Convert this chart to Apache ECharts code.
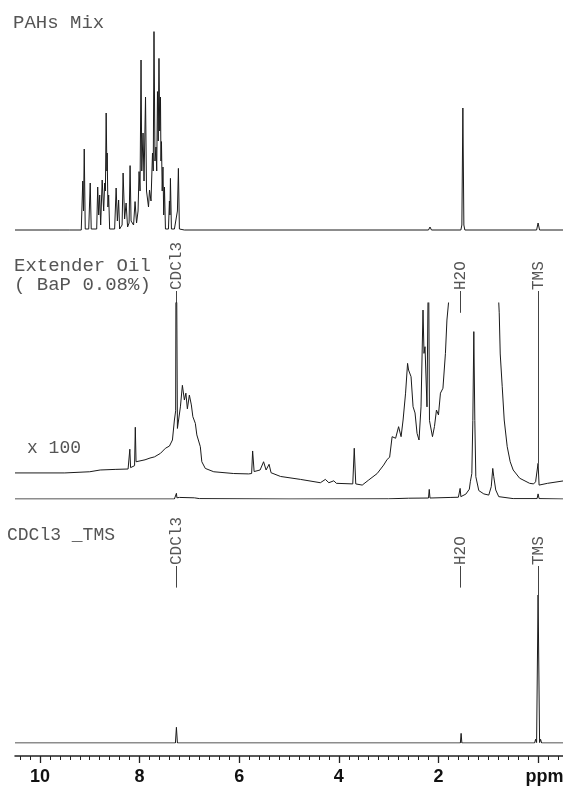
<!DOCTYPE html>
<html>
<head>
<meta charset="utf-8">
<title>1H NMR - PAHs Mix / Extender Oil / CDCl3 _TMS</title>
<script src="https://cdn.jsdelivr.net/npm/echarts@6.0.0/dist/echarts.min.js"></script>
<style>
	html, body { margin: 0; padding: 0; background: #fff; }
	#nmr-chart { width: 563px; height: 786px; }
</style>
</head>
<body>
<div id="nmr-chart"></div>
<script>
// ppm axis (drawn right to left)
var ppmMin = -0.5;
var ppmMax = 10.5;
var tickLabels = [0, 2, 4, 6, 8, 10];

// solvent / reference annotations
var solventNames = ["CDCl3", "H2O", "TMS"];
var solventPpm = [7.26, 1.56, 0.0];
var oilLeaderTip = [100, 95, 18.2];
var blankLeaderTip = [105, 105, 100];

// PAHs Mix  [ppm, intensity]
var pahMix = [
	[10.5,0.5],[9.4,0.5],[9.17,0.5],[9.14,25],[9.125,10],[9.11,41],[9.09,1],[9.02,1],[8.99,24],[8.97,1],
	[8.86,1],[8.84,22],[8.82,8],[8.80,18],[8.78,3],[8.75,25.5],[8.72,10],[8.70,24],[8.685,20],[8.67,59],
	[8.655,30],[8.65,39],[8.635,12],[8.62,18],[8.60,1],[8.50,1],[8.47,21.5],[8.445,5],[8.42,15.5],[8.40,1],
	[8.35,3],[8.33,29],[8.30,6],[8.27,14],[8.24,2],[8.21,4],[8.19,32.7],[8.17,5],[8.12,3],[8.09,14.7],
	[8.06,4],[8.03,10],[8.01,29.7],[7.99,20],[7.97,85.5],[7.955,30],[7.93,49],[7.91,25],[7.88,67],[7.86,20],
	[7.84,19],[7.82,12],[7.80,20.5],[7.77,15],[7.74,39],[7.725,30],[7.71,99.7],[7.69,35],[7.67,42],[7.655,30],
	[7.64,69.7],[7.625,45],[7.61,86.3],[7.595,50],[7.58,67],[7.57,35],[7.56,44.7],[7.545,20],[7.53,32],[7.515,8],
	[7.50,22],[7.48,1],[7.42,1],[7.40,15],[7.39,8],[7.38,26.3],[7.36,1],[7.30,1],[7.24,10],[7.22,31.3],
	[7.20,1],[7.1,0.5],[5.0,0.5],[2.2,0.5],[2.17,2],[2.14,0.5],[1.55,0.5],[1.53,3],[1.51,61.5],[1.49,3],
	[1.47,0.5],[0.03,0.5],[0.0,4],[-0.03,0.5],[-0.5,0.5]
];

// Extender Oil, x 100 trace  [ppm, intensity]
var oilX100 = [
	[10.5,13.3],[9.5,13.3],[9.0,13.9],[8.79,14.8],[8.49,15.1],[8.23,15.3],[8.21,15.3],[8.195,25.4],[8.18,16],[8.1,17],
	[8.085,36.6],[8.07,19],[7.89,20],[7.79,20.9],[7.7,21.5],[7.58,23.3],[7.48,25.9],[7.4,27],[7.34,30.1],[7.3,40.3],
	[7.275,45],[7.265,160],[7.255,160],[7.24,36],[7.23,35],[7.18,47],[7.14,58],[7.1,50.5],[7.07,54],[7.04,46],
	[7.0,53],[6.96,48],[6.93,42],[6.88,38.6],[6.85,32.7],[6.82,31.8],[6.78,26.7],[6.75,19],[6.68,15.6],[6.51,13.9],
	[6.11,13],[5.81,12.8],[5.75,13],[5.73,24.5],[5.70,14],[5.58,14.8],[5.51,19],[5.46,14.8],[5.40,17.7],[5.36,13.4],
	[5.17,11.5],[4.77,10],[4.37,8.3],[4.27,10],[4.20,8.3],[4.1,9.3],[4.05,8],[3.72,7.7],[3.69,25.9],[3.66,7.7],
	[3.53,7.1],[3.5,8],[3.40,9.7],[3.23,13],[3.10,17.3],[3.03,20.2],[2.98,21.3],[2.93,31.8],[2.89,32.7],[2.86,31],
	[2.80,36.9],[2.75,31.8],[2.71,40.3],[2.66,54],[2.62,69.2],[2.60,65.8],[2.55,62.4],[2.51,47.1],[2.47,43.9],[2.43,33.5],
	[2.39,30.1],[2.35,47],[2.31,96.4],[2.29,74.3],[2.27,77.7],[2.23,47],[2.20,130],[2.18,40],[2.12,31.8],[2.08,37],
	[2.04,45.4],[2.00,42.9],[1.96,54],[1.91,56.5],[1.86,74.3],[1.83,91.3],[1.78,105],[1.6,180],[1.3,400],[1.0,250],
	[0.8,106],[0.78,95],[0.76,74],[0.72,57.3],[0.68,40.3],[0.62,26.7],[0.56,19],[0.5,14.8],[0.37,10.6],[0.17,8],
	[0.09,7.7],[0.05,8.8],[0.02,8.5],[0.0,18.2],[-0.02,7.1],[-0.19,8],[-0.5,9.2]
];

// Extender Oil, normal trace  [ppm, intensity]
var oilX1 = [
	[10.5,0],[7.3,0],[7.27,0.5],[7.26,2.9],[7.25,0.6],[7.2,0.8],[6.9,0.6],[6.8,0.2],[5.0,0],[3.0,0.1],
	[2.6,0.4],[2.2,0.5],[2.185,4.9],[2.17,0.5],[1.75,0.8],[1.6,0.9],[1.565,5.4],[1.55,1.2],[1.45,2.5],[1.38,5],
	[1.36,8.8],[1.33,13],[1.31,40],[1.29,85.4],[1.27,40],[1.25,11.4],[1.19,4.3],[1.09,2.6],[0.99,2],[0.94,6.3],
	[0.91,15.6],[0.89,11.4],[0.85,4.6],[0.79,1.2],[0.5,0.2],[0.02,0.2],[0.0,2.6],[-0.02,0.2],[-0.5,0]
];

// CDCl3 _TMS blank  [ppm, intensity]
var blankCdcl3 = [
	[10.5,0],[7.28,0],[7.26,10.6],[7.24,0],[1.56,0],[1.545,6.5],[1.53,0],[0.07,0],[0.05,2.5],[0.03,0.3],
	[0.0,100],[-0.03,0.3],[-0.05,2.5],[-0.07,0],[-0.5,0]
];

var nmrChart = {
	monoFont : '"Liberation Mono", "Courier New", monospace',
	textColor : "#555",
	lineColor : "#1a1a1a",

	// 小刻度 0.2 ppm
	minorTicks : function() {
		var list = [];
		for (var k = -2; k <= 52; k++) {
			if (k % 10 !== 0) {
				list.push(Math.round(k * 2) / 10);
			}
		}
		return list;
	},

	grid : function(top, height) {
		return { left: 15, right: 0, top: top, height: height, outerBoundsMode: "none", containLabel: false };
	},
	hiddenX : function(gridIndex) {
		return { gridIndex: gridIndex, type: "value", min: ppmMin, max: ppmMax, inverse: true, show: false };
	},
	hiddenY : function(gridIndex) {
		return { gridIndex: gridIndex, type: "value", min: 0, max: 100, show: false };
	},

	trace : function(axisIndex, data) {
		return {
			type: "line",
			xAxisIndex: axisIndex,
			yAxisIndex: axisIndex,
			data: data,
			showSymbol: false,
			symbol: "none",
			clip: true,
			silent: true,
			lineStyle: { color: nmrChart.lineColor, width: 1 }
		};
	},

	// 溶剂峰标注（竖排文字 + 引线）
	annotations : function(axisIndex, tips, gap) {
		return {
			type: "custom",
			xAxisIndex: axisIndex,
			yAxisIndex: axisIndex,
			silent: true,
			data: solventPpm.map(function(p, i) { return [p, tips[i], i]; }),
			renderItem: function(params, api) {
				var tip = api.coord([api.value(0), api.value(1)]);
				var labelBottom = params.coordSys.y - gap;
				var x = Math.round(tip[0]) + 0.5;
				return {
					type: "group",
					children: [{
						type: "line",
						shape: { x1: x, y1: labelBottom + 1, x2: x, y2: tip[1] },
						style: { stroke: "#444", lineWidth: 1 }
					}, {
						type: "text",
						x: x,
						y: labelBottom,
						rotation: Math.PI / 2,
						style: {
							text: solventNames[api.value(2)],
							font: "16px " + nmrChart.monoFont,
							fill: nmrChart.textColor,
							align: "left",
							verticalAlign: "middle"
						}
					}]
				};
			}
		};
	},

	title : function(text, x, y, size) {
		return {
			type: "text",
			x: x,
			y: y,
			silent: true,
			style: {
				text: text,
				font: size + "px " + nmrChart.monoFont,
				fill: nmrChart.textColor,
				verticalAlign: "middle"
			}
		};
	},

	init : function() {
		var myChart = echarts.init(document.getElementById("nmr-chart"));
		var option = {
			animation: false,
			backgroundColor: "#fff",
			grid: [
				nmrChart.grid(31, 200),
				nmrChart.grid(303, 196),
				nmrChart.grid(595, 148)
			],
			xAxis: [
				nmrChart.hiddenX(0),
				nmrChart.hiddenX(1),
				{
					gridIndex: 2, type: "value", min: ppmMin, max: ppmMax, inverse: true,
					position: "bottom", offset: 13,
					splitLine: { show: false },
					axisLine: { show: true, onZero: false, lineStyle: { color: "#222", width: 1.5 } },
					axisTick: { show: true, length: 7, customValues: tickLabels, lineStyle: { color: "#222", width: 1.3 } },
					axisLabel: {
						customValues: tickLabels,
						margin: 12,
						fontFamily: '"Liberation Sans", Arial, sans-serif',
						fontWeight: "bold",
						fontSize: 18,
						color: "#111",
						formatter: function(v) {
							return v === 0 ? "{u|ppm}" : String(v);
						},
						rich: {
							u: {
								fontFamily: '"Liberation Sans", Arial, sans-serif',
								fontWeight: "bold",
								fontSize: 18,
								color: "#111",
								padding: [0, 0, 0, 13]
							}
						}
					}
				},
				{
					gridIndex: 2, type: "value", min: ppmMin, max: ppmMax, inverse: true,
					position: "bottom", offset: 13,
					splitLine: { show: false },
					axisLine: { show: false, onZero: false },
					axisTick: { show: true, length: 4, customValues: nmrChart.minorTicks(), lineStyle: { color: "#222", width: 1 } },
					axisLabel: { show: false }
				}
			],
			yAxis: [nmrChart.hiddenY(0), nmrChart.hiddenY(1), nmrChart.hiddenY(2)],
			series: [
				nmrChart.trace(0, pahMix),
				nmrChart.trace(1, oilX100),
				nmrChart.trace(1, oilX1),
				nmrChart.trace(2, blankCdcl3),
				nmrChart.annotations(1, oilLeaderTip, 13),
				nmrChart.annotations(2, blankLeaderTip, 30)
			],
			graphic: [
				nmrChart.title("PAHs Mix", 13, 23, 19),
				nmrChart.title("Extender Oil", 14, 266, 19),
				nmrChart.title("( BaP 0.08%)", 14, 285, 19),
				nmrChart.title("x 100", 27, 448, 18),
				nmrChart.title("CDCl3 _TMS", 7, 535, 18)
			]
		};
		myChart.setOption(option);
	}
};

nmrChart.init();
</script>
</body>
</html>
